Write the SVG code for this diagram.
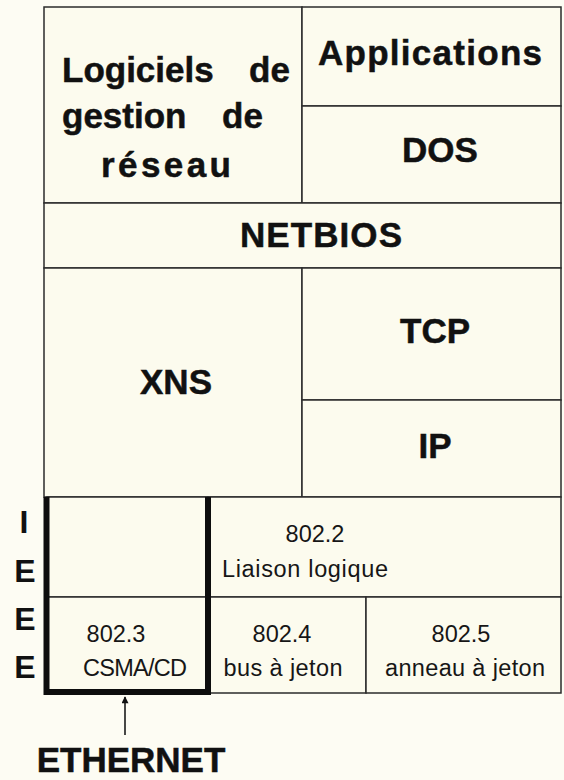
<svg xmlns="http://www.w3.org/2000/svg" width="564" height="780" viewBox="0 0 564 780">
  <defs>
    <style>
      .cell { fill: #fcfbee; stroke: #2b2b2b; stroke-width: 1.5; }
      .big { font-family: "Liberation Sans", Arial, sans-serif; font-weight: bold; font-size: 35px; fill: #111; stroke: #111; stroke-width: 0.5; }
      .ieee { font-family: "Liberation Sans", Arial, sans-serif; font-weight: bold; font-size: 32px; fill: #111; text-anchor: middle; }
      .small { font-family: "Liberation Sans", Arial, sans-serif; font-size: 23.5px; fill: #161616; text-anchor: middle; }
      .thick { fill: none; stroke: #0d0d0d; stroke-width: 6; stroke-linejoin: miter; }
      .conn { fill: none; stroke: #1a1a1a; stroke-width: 1.6; }
    </style>
    <marker id="arrowhead" viewBox="0 0 10 10" refX="9" refY="5" markerWidth="8" markerHeight="7" markerUnits="userSpaceOnUse" orient="auto">
      <path d="M0,0 L10,5 L0,10 Z" fill="#111"/>
    </marker>
  </defs>

  <rect x="0" y="0" width="564" height="780" fill="#fdfcf3"/>

  <g id="logiciels">
    <rect class="cell" x="44" y="7" width="258" height="196"/>
    <text class="big" x="62" y="82">Logiciels</text>
    <text class="big" x="249" y="82">de</text>
    <text class="big" x="62" y="128">gestion</text>
    <text class="big" x="222" y="128">de</text>
    <text class="big" x="101" y="177" textLength="130">réseau</text>
  </g>

  <g id="applications">
    <rect class="cell" x="302" y="7" width="259" height="99"/>
    <text class="big" x="318" y="65" textLength="224">Applications</text>
  </g>

  <g id="dos">
    <rect class="cell" x="302" y="106" width="259" height="97"/>
    <text class="big" x="440" y="162" text-anchor="middle">DOS</text>
  </g>

  <g id="netbios">
    <rect class="cell" x="44" y="203" width="517" height="65"/>
    <text class="big" x="240" y="247" textLength="162">NETBIOS</text>
  </g>

  <g id="xns">
    <rect class="cell" x="44" y="268" width="258" height="229"/>
    <text class="big" x="176" y="394" text-anchor="middle">XNS</text>
  </g>

  <g id="tcp">
    <rect class="cell" x="302" y="268" width="259" height="132"/>
    <text class="big" x="435" y="343" text-anchor="middle">TCP</text>
  </g>

  <g id="ip">
    <rect class="cell" x="302" y="400" width="259" height="97"/>
    <text class="big" x="435" y="458" text-anchor="middle">IP</text>
  </g>

  <g id="llc-empty">
    <rect class="cell" x="47" y="497" width="161" height="100"/>
  </g>

  <g id="ieee-802-2">
    <rect class="cell" x="208" y="497" width="353" height="100"/>
    <text class="small" x="315" y="542">802.2</text>
    <text class="small" x="305" y="577" textLength="166">Liaison logique</text>
  </g>

  <g id="ieee-802-3">
    <rect class="cell" x="47" y="597" width="161" height="96"/>
    <text class="small" x="116" y="642">802.3</text>
    <text class="small" x="135" y="676" textLength="104">CSMA/CD</text>
  </g>

  <g id="ieee-802-4">
    <rect class="cell" x="208" y="597" width="158" height="96"/>
    <text class="small" x="282" y="642">802.4</text>
    <text class="small" x="283" y="676" textLength="119">bus à jeton</text>
  </g>

  <g id="ieee-802-5">
    <rect class="cell" x="366" y="597" width="195" height="96"/>
    <text class="small" x="461" y="642">802.5</text>
    <text class="small" x="465" y="676" textLength="160">anneau à jeton</text>
  </g>

  <g id="ethernet-frame">
    <path class="thick" d="M46.5,497 V692 H208 V497"/>
  </g>

  <g id="ieee-label">
    <text class="ieee" x="24" y="533">I</text>
    <text class="ieee" x="25" y="582">E</text>
    <text class="ieee" x="25" y="630">E</text>
    <text class="ieee" x="25" y="678">E</text>
  </g>

  <g id="ethernet-label">
    <text class="big" x="131" y="772" text-anchor="middle">ETHERNET</text>
  </g>

  <g id="connectors">
    <line class="conn" x1="125" y1="735" x2="125" y2="697" marker-end="url(#arrowhead)"/>
  </g>
</svg>
